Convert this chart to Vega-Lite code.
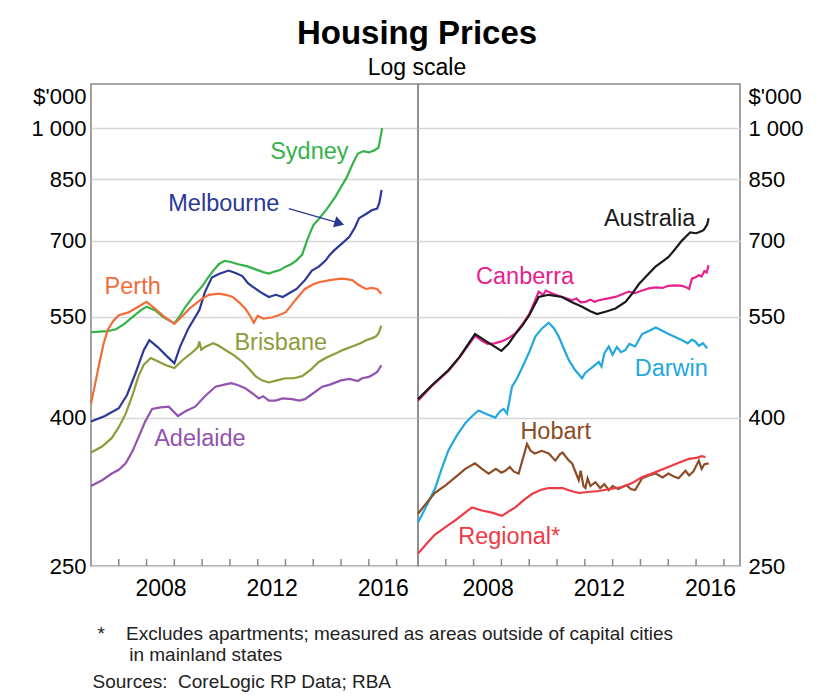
{
  "$schema": "https://vega.github.io/schema/vega-lite/v6.json",
  "background": "white",
  "padding": {"left": 30, "top": 18, "right": 5, "bottom": 5},
  "autosize": {"type": "pad"},
  "bounds": "flush",
  "spacing": 0,
  "title": {"text": "Housing Prices", "subtitle": "Log scale", "anchor": "middle", "font": "Liberation Sans", "subtitleFont": "Liberation Sans", "fontSize": 33, "fontWeight": "bold", "subtitleFontSize": 23, "color": "#000000", "subtitleColor": "#000000", "offset": 3, "subtitlePadding": 6},
  "config": {
    "font": "Liberation Sans",
    "view": {"stroke": "#8a8a8a", "strokeWidth": 1.6},
    "axis": {"labelFont": "Liberation Sans", "titleFont": "Liberation Sans", "labelColor": "#000000", "titleColor": "#000000", "labelFontSize": 22, "titleFontSize": 22, "titleFontWeight": "normal"}
  },
  "datasets": {
    "series": [
      {"panel":"L","city":"Sydney","year":2006.0,"price":524},{"panel":"L","city":"Sydney","year":2006.3,"price":525},{"panel":"L","city":"Sydney","year":2006.6,"price":526},{"panel":"L","city":"Sydney","year":2006.9,"price":529},{"panel":"L","city":"Sydney","year":2007.2,"price":538},{"panel":"L","city":"Sydney","year":2007.5,"price":550},{"panel":"L","city":"Sydney","year":2007.8,"price":562},{"panel":"L","city":"Sydney","year":2008.0,"price":568},{"panel":"L","city":"Sydney","year":2008.3,"price":562},{"panel":"L","city":"Sydney","year":2008.6,"price":550},{"panel":"L","city":"Sydney","year":2009.0,"price":539},{"panel":"L","city":"Sydney","year":2009.2,"price":552},{"panel":"L","city":"Sydney","year":2009.4,"price":568},{"panel":"L","city":"Sydney","year":2009.7,"price":588},{"panel":"L","city":"Sydney","year":2010.0,"price":606},{"panel":"L","city":"Sydney","year":2010.2,"price":622},{"panel":"L","city":"Sydney","year":2010.4,"price":637},{"panel":"L","city":"Sydney","year":2010.6,"price":650},{"panel":"L","city":"Sydney","year":2010.8,"price":657},{"panel":"L","city":"Sydney","year":2011.0,"price":655},{"panel":"L","city":"Sydney","year":2011.3,"price":650},{"panel":"L","city":"Sydney","year":2011.6,"price":646},{"panel":"L","city":"Sydney","year":2011.9,"price":640},{"panel":"L","city":"Sydney","year":2012.2,"price":634},{"panel":"L","city":"Sydney","year":2012.4,"price":631},{"panel":"L","city":"Sydney","year":2012.6,"price":635},{"panel":"L","city":"Sydney","year":2012.8,"price":638},{"panel":"L","city":"Sydney","year":2013.0,"price":645},{"panel":"L","city":"Sydney","year":2013.2,"price":650},{"panel":"L","city":"Sydney","year":2013.4,"price":658},{"panel":"L","city":"Sydney","year":2013.6,"price":670},{"panel":"L","city":"Sydney","year":2013.8,"price":705},{"panel":"L","city":"Sydney","year":2014.0,"price":735},{"panel":"L","city":"Sydney","year":2014.2,"price":750},{"panel":"L","city":"Sydney","year":2014.5,"price":775},{"panel":"L","city":"Sydney","year":2014.8,"price":805},{"panel":"L","city":"Sydney","year":2015.0,"price":830},{"panel":"L","city":"Sydney","year":2015.2,"price":855},{"panel":"L","city":"Sydney","year":2015.4,"price":890},{"panel":"L","city":"Sydney","year":2015.6,"price":922},{"panel":"L","city":"Sydney","year":2015.8,"price":930},{"panel":"L","city":"Sydney","year":2016.0,"price":926},{"panel":"L","city":"Sydney","year":2016.2,"price":932},{"panel":"L","city":"Sydney","year":2016.35,"price":940},{"panel":"L","city":"Sydney","year":2016.48,"price":1000},
      {"panel":"L","city":"Melbourne","year":2006.0,"price":395},{"panel":"L","city":"Melbourne","year":2006.5,"price":402},{"panel":"L","city":"Melbourne","year":2007.0,"price":412},{"panel":"L","city":"Melbourne","year":2007.3,"price":430},{"panel":"L","city":"Melbourne","year":2007.6,"price":460},{"panel":"L","city":"Melbourne","year":2007.9,"price":495},{"panel":"L","city":"Melbourne","year":2008.1,"price":511},{"panel":"L","city":"Melbourne","year":2008.4,"price":500},{"panel":"L","city":"Melbourne","year":2008.7,"price":487},{"panel":"L","city":"Melbourne","year":2009.0,"price":475},{"panel":"L","city":"Melbourne","year":2009.2,"price":500},{"panel":"L","city":"Melbourne","year":2009.5,"price":530},{"panel":"L","city":"Melbourne","year":2009.9,"price":562},{"panel":"L","city":"Melbourne","year":2010.1,"price":595},{"panel":"L","city":"Melbourne","year":2010.35,"price":623},{"panel":"L","city":"Melbourne","year":2010.6,"price":630},{"panel":"L","city":"Melbourne","year":2010.95,"price":637},{"panel":"L","city":"Melbourne","year":2011.2,"price":632},{"panel":"L","city":"Melbourne","year":2011.45,"price":626},{"panel":"L","city":"Melbourne","year":2011.65,"price":612},{"panel":"L","city":"Melbourne","year":2011.8,"price":606},{"panel":"L","city":"Melbourne","year":2012.1,"price":595},{"panel":"L","city":"Melbourne","year":2012.4,"price":586},{"panel":"L","city":"Melbourne","year":2012.65,"price":590},{"panel":"L","city":"Melbourne","year":2012.9,"price":586},{"panel":"L","city":"Melbourne","year":2013.1,"price":592},{"panel":"L","city":"Melbourne","year":2013.4,"price":601},{"panel":"L","city":"Melbourne","year":2013.7,"price":618},{"panel":"L","city":"Melbourne","year":2013.95,"price":637},{"panel":"L","city":"Melbourne","year":2014.2,"price":645},{"panel":"L","city":"Melbourne","year":2014.45,"price":658},{"panel":"L","city":"Melbourne","year":2014.6,"price":670},{"panel":"L","city":"Melbourne","year":2014.75,"price":679},{"panel":"L","city":"Melbourne","year":2015.0,"price":692},{"panel":"L","city":"Melbourne","year":2015.3,"price":709},{"panel":"L","city":"Melbourne","year":2015.5,"price":730},{"panel":"L","city":"Melbourne","year":2015.65,"price":752},{"panel":"L","city":"Melbourne","year":2015.9,"price":762},{"panel":"L","city":"Melbourne","year":2016.1,"price":771},{"panel":"L","city":"Melbourne","year":2016.3,"price":775},{"panel":"L","city":"Melbourne","year":2016.38,"price":790},{"panel":"L","city":"Melbourne","year":2016.46,"price":822},
      {"panel":"L","city":"Perth","year":2006.0,"price":418},{"panel":"L","city":"Perth","year":2006.15,"price":445},{"panel":"L","city":"Perth","year":2006.3,"price":475},{"panel":"L","city":"Perth","year":2006.45,"price":505},{"panel":"L","city":"Perth","year":2006.6,"price":528},{"panel":"L","city":"Perth","year":2006.8,"price":543},{"panel":"L","city":"Perth","year":2007.0,"price":553},{"panel":"L","city":"Perth","year":2007.35,"price":558},{"panel":"L","city":"Perth","year":2007.7,"price":568},{"panel":"L","city":"Perth","year":2008.0,"price":577},{"panel":"L","city":"Perth","year":2008.3,"price":565},{"panel":"L","city":"Perth","year":2008.6,"price":552},{"panel":"L","city":"Perth","year":2009.0,"price":538},{"panel":"L","city":"Perth","year":2009.3,"price":552},{"panel":"L","city":"Perth","year":2009.55,"price":565},{"panel":"L","city":"Perth","year":2009.75,"price":573},{"panel":"L","city":"Perth","year":2010.0,"price":583},{"panel":"L","city":"Perth","year":2010.25,"price":590},{"panel":"L","city":"Perth","year":2010.6,"price":592},{"panel":"L","city":"Perth","year":2010.85,"price":590},{"panel":"L","city":"Perth","year":2011.1,"price":586},{"panel":"L","city":"Perth","year":2011.35,"price":575},{"panel":"L","city":"Perth","year":2011.55,"price":565},{"panel":"L","city":"Perth","year":2011.75,"price":550},{"panel":"L","city":"Perth","year":2011.86,"price":540},{"panel":"L","city":"Perth","year":2012.0,"price":552},{"panel":"L","city":"Perth","year":2012.2,"price":547},{"panel":"L","city":"Perth","year":2012.5,"price":549},{"panel":"L","city":"Perth","year":2012.75,"price":553},{"panel":"L","city":"Perth","year":2013.0,"price":558},{"panel":"L","city":"Perth","year":2013.2,"price":570},{"panel":"L","city":"Perth","year":2013.35,"price":580},{"panel":"L","city":"Perth","year":2013.55,"price":592},{"panel":"L","city":"Perth","year":2013.7,"price":601},{"panel":"L","city":"Perth","year":2014.0,"price":610},{"panel":"L","city":"Perth","year":2014.2,"price":614},{"panel":"L","city":"Perth","year":2014.6,"price":618},{"panel":"L","city":"Perth","year":2015.0,"price":621},{"panel":"L","city":"Perth","year":2015.2,"price":620},{"panel":"L","city":"Perth","year":2015.4,"price":618},{"panel":"L","city":"Perth","year":2015.65,"price":608},{"panel":"L","city":"Perth","year":2015.9,"price":601},{"panel":"L","city":"Perth","year":2016.1,"price":603},{"panel":"L","city":"Perth","year":2016.3,"price":601},{"panel":"L","city":"Perth","year":2016.45,"price":592},
      {"panel":"L","city":"Brisbane","year":2006.0,"price":358},{"panel":"L","city":"Brisbane","year":2006.4,"price":365},{"panel":"L","city":"Brisbane","year":2006.75,"price":375},{"panel":"L","city":"Brisbane","year":2007.0,"price":388},{"panel":"L","city":"Brisbane","year":2007.25,"price":405},{"panel":"L","city":"Brisbane","year":2007.5,"price":430},{"panel":"L","city":"Brisbane","year":2007.7,"price":455},{"panel":"L","city":"Brisbane","year":2007.9,"price":473},{"panel":"L","city":"Brisbane","year":2008.15,"price":483},{"panel":"L","city":"Brisbane","year":2008.4,"price":478},{"panel":"L","city":"Brisbane","year":2008.7,"price":472},{"panel":"L","city":"Brisbane","year":2009.0,"price":468},{"panel":"L","city":"Brisbane","year":2009.3,"price":480},{"panel":"L","city":"Brisbane","year":2009.6,"price":490},{"panel":"L","city":"Brisbane","year":2009.85,"price":500},{"panel":"L","city":"Brisbane","year":2009.9,"price":509},{"panel":"L","city":"Brisbane","year":2009.97,"price":496},{"panel":"L","city":"Brisbane","year":2010.1,"price":500},{"panel":"L","city":"Brisbane","year":2010.4,"price":506},{"panel":"L","city":"Brisbane","year":2010.6,"price":502},{"panel":"L","city":"Brisbane","year":2010.85,"price":495},{"panel":"L","city":"Brisbane","year":2011.15,"price":487},{"panel":"L","city":"Brisbane","year":2011.45,"price":477},{"panel":"L","city":"Brisbane","year":2011.7,"price":466},{"panel":"L","city":"Brisbane","year":2011.92,"price":456},{"panel":"L","city":"Brisbane","year":2012.15,"price":450},{"panel":"L","city":"Brisbane","year":2012.4,"price":447},{"panel":"L","city":"Brisbane","year":2012.7,"price":450},{"panel":"L","city":"Brisbane","year":2013.0,"price":453},{"panel":"L","city":"Brisbane","year":2013.3,"price":453},{"panel":"L","city":"Brisbane","year":2013.6,"price":456},{"panel":"L","city":"Brisbane","year":2013.9,"price":465},{"panel":"L","city":"Brisbane","year":2014.2,"price":477},{"panel":"L","city":"Brisbane","year":2014.5,"price":484},{"panel":"L","city":"Brisbane","year":2014.8,"price":490},{"panel":"L","city":"Brisbane","year":2015.1,"price":496},{"panel":"L","city":"Brisbane","year":2015.4,"price":501},{"panel":"L","city":"Brisbane","year":2015.7,"price":506},{"panel":"L","city":"Brisbane","year":2015.9,"price":511},{"panel":"L","city":"Brisbane","year":2016.1,"price":514},{"panel":"L","city":"Brisbane","year":2016.25,"price":517},{"panel":"L","city":"Brisbane","year":2016.35,"price":522},{"panel":"L","city":"Brisbane","year":2016.45,"price":535},
      {"panel":"L","city":"Adelaide","year":2006.0,"price":322},{"panel":"L","city":"Adelaide","year":2006.4,"price":328},{"panel":"L","city":"Adelaide","year":2006.75,"price":335},{"panel":"L","city":"Adelaide","year":2007.0,"price":339},{"panel":"L","city":"Adelaide","year":2007.25,"price":346},{"panel":"L","city":"Adelaide","year":2007.5,"price":360},{"panel":"L","city":"Adelaide","year":2007.7,"price":375},{"panel":"L","city":"Adelaide","year":2007.95,"price":395},{"panel":"L","city":"Adelaide","year":2008.2,"price":411},{"panel":"L","city":"Adelaide","year":2008.5,"price":413},{"panel":"L","city":"Adelaide","year":2008.8,"price":414},{"panel":"L","city":"Adelaide","year":2009.13,"price":402},{"panel":"L","city":"Adelaide","year":2009.4,"price":408},{"panel":"L","city":"Adelaide","year":2009.75,"price":414},{"panel":"L","city":"Adelaide","year":2010.1,"price":428},{"panel":"L","city":"Adelaide","year":2010.48,"price":441},{"panel":"L","city":"Adelaide","year":2010.8,"price":444},{"panel":"L","city":"Adelaide","year":2011.05,"price":446},{"panel":"L","city":"Adelaide","year":2011.3,"price":443},{"panel":"L","city":"Adelaide","year":2011.55,"price":439},{"panel":"L","city":"Adelaide","year":2011.8,"price":432},{"panel":"L","city":"Adelaide","year":2012.04,"price":425},{"panel":"L","city":"Adelaide","year":2012.2,"price":428},{"panel":"L","city":"Adelaide","year":2012.4,"price":422},{"panel":"L","city":"Adelaide","year":2012.64,"price":422},{"panel":"L","city":"Adelaide","year":2012.9,"price":425},{"panel":"L","city":"Adelaide","year":2013.24,"price":424},{"panel":"L","city":"Adelaide","year":2013.5,"price":422},{"panel":"L","city":"Adelaide","year":2013.7,"price":424},{"panel":"L","city":"Adelaide","year":2014.0,"price":432},{"panel":"L","city":"Adelaide","year":2014.32,"price":441},{"panel":"L","city":"Adelaide","year":2014.6,"price":444},{"panel":"L","city":"Adelaide","year":2015.0,"price":450},{"panel":"L","city":"Adelaide","year":2015.3,"price":452},{"panel":"L","city":"Adelaide","year":2015.6,"price":449},{"panel":"L","city":"Adelaide","year":2015.76,"price":453},{"panel":"L","city":"Adelaide","year":2016.0,"price":455},{"panel":"L","city":"Adelaide","year":2016.1,"price":457},{"panel":"L","city":"Adelaide","year":2016.3,"price":462},{"panel":"L","city":"Adelaide","year":2016.45,"price":472},
      {"panel":"R","city":"Canberra","year":2006.0,"price":422},{"panel":"R","city":"Canberra","year":2006.5,"price":442},{"panel":"R","city":"Canberra","year":2007.1,"price":464},{"panel":"R","city":"Canberra","year":2007.5,"price":484},{"panel":"R","city":"Canberra","year":2008.05,"price":518},{"panel":"R","city":"Canberra","year":2008.3,"price":510},{"panel":"R","city":"Canberra","year":2008.5,"price":505},{"panel":"R","city":"Canberra","year":2008.75,"price":506},{"panel":"R","city":"Canberra","year":2009.0,"price":509},{"panel":"R","city":"Canberra","year":2009.25,"price":514},{"panel":"R","city":"Canberra","year":2009.5,"price":522},{"panel":"R","city":"Canberra","year":2009.75,"price":537},{"panel":"R","city":"Canberra","year":2010.0,"price":555},{"panel":"R","city":"Canberra","year":2010.2,"price":578},{"panel":"R","city":"Canberra","year":2010.34,"price":596},{"panel":"R","city":"Canberra","year":2010.5,"price":590},{"panel":"R","city":"Canberra","year":2010.6,"price":598},{"panel":"R","city":"Canberra","year":2010.85,"price":592},{"panel":"R","city":"Canberra","year":2011.06,"price":588},{"panel":"R","city":"Canberra","year":2011.3,"price":584},{"panel":"R","city":"Canberra","year":2011.54,"price":580},{"panel":"R","city":"Canberra","year":2011.7,"price":583},{"panel":"R","city":"Canberra","year":2011.85,"price":576},{"panel":"R","city":"Canberra","year":2012.02,"price":577},{"panel":"R","city":"Canberra","year":2012.2,"price":581},{"panel":"R","city":"Canberra","year":2012.35,"price":577},{"panel":"R","city":"Canberra","year":2012.5,"price":580},{"panel":"R","city":"Canberra","year":2012.8,"price":583},{"panel":"R","city":"Canberra","year":2013.1,"price":586},{"panel":"R","city":"Canberra","year":2013.3,"price":590},{"panel":"R","city":"Canberra","year":2013.58,"price":596},{"panel":"R","city":"Canberra","year":2013.8,"price":593},{"panel":"R","city":"Canberra","year":2014.06,"price":598},{"panel":"R","city":"Canberra","year":2014.3,"price":602},{"panel":"R","city":"Canberra","year":2014.55,"price":604},{"panel":"R","city":"Canberra","year":2014.8,"price":603},{"panel":"R","city":"Canberra","year":2015.0,"price":607},{"panel":"R","city":"Canberra","year":2015.25,"price":608},{"panel":"R","city":"Canberra","year":2015.5,"price":607},{"panel":"R","city":"Canberra","year":2015.65,"price":604},{"panel":"R","city":"Canberra","year":2015.75,"price":601},{"panel":"R","city":"Canberra","year":2015.85,"price":621},{"panel":"R","city":"Canberra","year":2016.0,"price":624},{"panel":"R","city":"Canberra","year":2016.1,"price":628},{"panel":"R","city":"Canberra","year":2016.2,"price":625},{"panel":"R","city":"Canberra","year":2016.3,"price":636},{"panel":"R","city":"Canberra","year":2016.38,"price":633},{"panel":"R","city":"Canberra","year":2016.45,"price":648},
      {"panel":"R","city":"Australia","year":2006.0,"price":424},{"panel":"R","city":"Australia","year":2006.5,"price":443},{"panel":"R","city":"Australia","year":2007.1,"price":465},{"panel":"R","city":"Australia","year":2007.5,"price":485},{"panel":"R","city":"Australia","year":2008.05,"price":521},{"panel":"R","city":"Australia","year":2008.5,"price":508},{"panel":"R","city":"Australia","year":2009.0,"price":494},{"panel":"R","city":"Australia","year":2009.25,"price":505},{"panel":"R","city":"Australia","year":2009.5,"price":521},{"panel":"R","city":"Australia","year":2009.75,"price":535},{"panel":"R","city":"Australia","year":2010.0,"price":553},{"panel":"R","city":"Australia","year":2010.34,"price":586},{"panel":"R","city":"Australia","year":2010.7,"price":590},{"panel":"R","city":"Australia","year":2011.18,"price":586},{"panel":"R","city":"Australia","year":2011.5,"price":577},{"panel":"R","city":"Australia","year":2011.9,"price":568},{"panel":"R","city":"Australia","year":2012.2,"price":560},{"panel":"R","city":"Australia","year":2012.44,"price":555},{"panel":"R","city":"Australia","year":2012.8,"price":560},{"panel":"R","city":"Australia","year":2013.1,"price":565},{"panel":"R","city":"Australia","year":2013.46,"price":577},{"panel":"R","city":"Australia","year":2013.7,"price":592},{"panel":"R","city":"Australia","year":2013.94,"price":610},{"panel":"R","city":"Australia","year":2014.2,"price":625},{"panel":"R","city":"Australia","year":2014.54,"price":645},{"panel":"R","city":"Australia","year":2014.8,"price":656},{"panel":"R","city":"Australia","year":2015.01,"price":665},{"panel":"R","city":"Australia","year":2015.25,"price":682},{"panel":"R","city":"Australia","year":2015.5,"price":701},{"panel":"R","city":"Australia","year":2015.79,"price":719},{"panel":"R","city":"Australia","year":2016.0,"price":717},{"panel":"R","city":"Australia","year":2016.1,"price":719},{"panel":"R","city":"Australia","year":2016.27,"price":724},{"panel":"R","city":"Australia","year":2016.4,"price":737},{"panel":"R","city":"Australia","year":2016.45,"price":752},
      {"panel":"R","city":"Darwin","year":2006.0,"price":287},{"panel":"R","city":"Darwin","year":2006.3,"price":302},{"panel":"R","city":"Darwin","year":2006.62,"price":320},{"panel":"R","city":"Darwin","year":2006.85,"price":340},{"panel":"R","city":"Darwin","year":2007.1,"price":361},{"panel":"R","city":"Darwin","year":2007.4,"price":378},{"panel":"R","city":"Darwin","year":2007.7,"price":393},{"panel":"R","city":"Darwin","year":2007.95,"price":402},{"panel":"R","city":"Darwin","year":2008.18,"price":409},{"panel":"R","city":"Darwin","year":2008.5,"price":404},{"panel":"R","city":"Darwin","year":2008.78,"price":400},{"panel":"R","city":"Darwin","year":2008.95,"price":408},{"panel":"R","city":"Darwin","year":2009.08,"price":411},{"panel":"R","city":"Darwin","year":2009.2,"price":405},{"panel":"R","city":"Darwin","year":2009.38,"price":441},{"panel":"R","city":"Darwin","year":2009.55,"price":452},{"panel":"R","city":"Darwin","year":2009.74,"price":468},{"panel":"R","city":"Darwin","year":2010.0,"price":492},{"panel":"R","city":"Darwin","year":2010.22,"price":517},{"panel":"R","city":"Darwin","year":2010.45,"price":530},{"panel":"R","city":"Darwin","year":2010.7,"price":540},{"panel":"R","city":"Darwin","year":2010.9,"price":530},{"panel":"R","city":"Darwin","year":2011.06,"price":517},{"panel":"R","city":"Darwin","year":2011.25,"price":497},{"panel":"R","city":"Darwin","year":2011.42,"price":480},{"panel":"R","city":"Darwin","year":2011.65,"price":465},{"panel":"R","city":"Darwin","year":2011.9,"price":453},{"panel":"R","city":"Darwin","year":2012.0,"price":460},{"panel":"R","city":"Darwin","year":2012.14,"price":465},{"panel":"R","city":"Darwin","year":2012.3,"price":470},{"panel":"R","city":"Darwin","year":2012.5,"price":477},{"panel":"R","city":"Darwin","year":2012.6,"price":470},{"panel":"R","city":"Darwin","year":2012.7,"price":490},{"panel":"R","city":"Darwin","year":2012.86,"price":501},{"panel":"R","city":"Darwin","year":2013.0,"price":488},{"panel":"R","city":"Darwin","year":2013.15,"price":500},{"panel":"R","city":"Darwin","year":2013.3,"price":492},{"panel":"R","city":"Darwin","year":2013.45,"price":495},{"panel":"R","city":"Darwin","year":2013.6,"price":505},{"panel":"R","city":"Darwin","year":2013.81,"price":501},{"panel":"R","city":"Darwin","year":2013.95,"price":512},{"panel":"R","city":"Darwin","year":2014.06,"price":521},{"panel":"R","city":"Darwin","year":2014.3,"price":526},{"panel":"R","city":"Darwin","year":2014.55,"price":532},{"panel":"R","city":"Darwin","year":2014.8,"price":526},{"panel":"R","city":"Darwin","year":2015.01,"price":521},{"panel":"R","city":"Darwin","year":2015.25,"price":516},{"panel":"R","city":"Darwin","year":2015.5,"price":511},{"panel":"R","city":"Darwin","year":2015.7,"price":506},{"panel":"R","city":"Darwin","year":2015.85,"price":512},{"panel":"R","city":"Darwin","year":2015.97,"price":509},{"panel":"R","city":"Darwin","year":2016.1,"price":502},{"panel":"R","city":"Darwin","year":2016.25,"price":506},{"panel":"R","city":"Darwin","year":2016.4,"price":498},
      {"panel":"R","city":"Hobart","year":2006.0,"price":295},{"panel":"R","city":"Hobart","year":2006.3,"price":305},{"panel":"R","city":"Hobart","year":2006.6,"price":315},{"panel":"R","city":"Hobart","year":2007.0,"price":323},{"panel":"R","city":"Hobart","year":2007.34,"price":331},{"panel":"R","city":"Hobart","year":2007.7,"price":340},{"panel":"R","city":"Hobart","year":2008.05,"price":346},{"panel":"R","city":"Hobart","year":2008.3,"price":340},{"panel":"R","city":"Hobart","year":2008.54,"price":335},{"panel":"R","city":"Hobart","year":2008.8,"price":340},{"panel":"R","city":"Hobart","year":2009.0,"price":336},{"panel":"R","city":"Hobart","year":2009.14,"price":338},{"panel":"R","city":"Hobart","year":2009.3,"price":342},{"panel":"R","city":"Hobart","year":2009.45,"price":337},{"panel":"R","city":"Hobart","year":2009.62,"price":335},{"panel":"R","city":"Hobart","year":2009.92,"price":368},{"panel":"R","city":"Hobart","year":2010.05,"price":360},{"panel":"R","city":"Hobart","year":2010.2,"price":357},{"panel":"R","city":"Hobart","year":2010.45,"price":360},{"panel":"R","city":"Hobart","year":2010.7,"price":357},{"panel":"R","city":"Hobart","year":2010.94,"price":349},{"panel":"R","city":"Hobart","year":2011.1,"price":356},{"panel":"R","city":"Hobart","year":2011.2,"price":358},{"panel":"R","city":"Hobart","year":2011.4,"price":350},{"panel":"R","city":"Hobart","year":2011.54,"price":346},{"panel":"R","city":"Hobart","year":2011.7,"price":334},{"panel":"R","city":"Hobart","year":2011.78,"price":328},{"panel":"R","city":"Hobart","year":2011.85,"price":338},{"panel":"R","city":"Hobart","year":2011.95,"price":322},{"panel":"R","city":"Hobart","year":2012.02,"price":320},{"panel":"R","city":"Hobart","year":2012.1,"price":330},{"panel":"R","city":"Hobart","year":2012.2,"price":322},{"panel":"R","city":"Hobart","year":2012.38,"price":326},{"panel":"R","city":"Hobart","year":2012.55,"price":320},{"panel":"R","city":"Hobart","year":2012.7,"price":324},{"panel":"R","city":"Hobart","year":2012.86,"price":318},{"panel":"R","city":"Hobart","year":2013.0,"price":322},{"panel":"R","city":"Hobart","year":2013.2,"price":319},{"panel":"R","city":"Hobart","year":2013.34,"price":321},{"panel":"R","city":"Hobart","year":2013.5,"price":323},{"panel":"R","city":"Hobart","year":2013.65,"price":319},{"panel":"R","city":"Hobart","year":2013.81,"price":318},{"panel":"R","city":"Hobart","year":2014.06,"price":330},{"panel":"R","city":"Hobart","year":2014.3,"price":333},{"panel":"R","city":"Hobart","year":2014.55,"price":335},{"panel":"R","city":"Hobart","year":2014.8,"price":331},{"panel":"R","city":"Hobart","year":2015.0,"price":335},{"panel":"R","city":"Hobart","year":2015.2,"price":332},{"panel":"R","city":"Hobart","year":2015.37,"price":330},{"panel":"R","city":"Hobart","year":2015.62,"price":338},{"panel":"R","city":"Hobart","year":2015.75,"price":333},{"panel":"R","city":"Hobart","year":2015.9,"price":337},{"panel":"R","city":"Hobart","year":2016.1,"price":349},{"panel":"R","city":"Hobart","year":2016.2,"price":340},{"panel":"R","city":"Hobart","year":2016.3,"price":345},{"panel":"R","city":"Hobart","year":2016.45,"price":346},
      {"panel":"R","city":"Regional","year":2006.0,"price":260},{"panel":"R","city":"Regional","year":2006.3,"price":268},{"panel":"R","city":"Regional","year":2006.6,"price":276},{"panel":"R","city":"Regional","year":2007.0,"price":283},{"panel":"R","city":"Regional","year":2007.35,"price":289},{"panel":"R","city":"Regional","year":2007.65,"price":295},{"panel":"R","city":"Regional","year":2007.94,"price":301},{"panel":"R","city":"Regional","year":2008.3,"price":298},{"panel":"R","city":"Regional","year":2008.66,"price":296},{"panel":"R","city":"Regional","year":2009.02,"price":293},{"panel":"R","city":"Regional","year":2009.25,"price":297},{"panel":"R","city":"Regional","year":2009.5,"price":301},{"panel":"R","city":"Regional","year":2009.8,"price":308},{"panel":"R","city":"Regional","year":2010.1,"price":314},{"panel":"R","city":"Regional","year":2010.4,"price":318},{"panel":"R","city":"Regional","year":2010.7,"price":320},{"panel":"R","city":"Regional","year":2011.0,"price":320},{"panel":"R","city":"Regional","year":2011.2,"price":320},{"panel":"R","city":"Regional","year":2011.5,"price":317},{"panel":"R","city":"Regional","year":2011.8,"price":315},{"panel":"R","city":"Regional","year":2012.1,"price":316},{"panel":"R","city":"Regional","year":2012.5,"price":317},{"panel":"R","city":"Regional","year":2012.9,"price":319},{"panel":"R","city":"Regional","year":2013.35,"price":321},{"panel":"R","city":"Regional","year":2013.7,"price":325},{"panel":"R","city":"Regional","year":2014.05,"price":331},{"panel":"R","city":"Regional","year":2014.5,"price":336},{"panel":"R","city":"Regional","year":2015.0,"price":342},{"panel":"R","city":"Regional","year":2015.4,"price":347},{"panel":"R","city":"Regional","year":2015.75,"price":351},{"panel":"R","city":"Regional","year":2016.0,"price":352},{"panel":"R","city":"Regional","year":2016.2,"price":354},{"panel":"R","city":"Regional","year":2016.34,"price":353}
    ],
    "labels": [
      {"panel":"L","city":"Sydney","label":"Sydney","year":2013.86,"price":926},
      {"panel":"L","city":"Melbourne","label":"Melbourne","year":2010.78,"price":786},
      {"panel":"L","city":"Perth","label":"Perth","year":2007.5,"price":604},
      {"panel":"L","city":"Brisbane","label":"Brisbane","year":2012.83,"price":507},
      {"panel":"L","city":"Adelaide","label":"Adelaide","year":2009.92,"price":374},
      {"panel":"R","city":"Australia","label":"Australia","year":2014.33,"price":751},
      {"panel":"R","city":"Canberra","label":"Canberra","year":2009.85,"price":624},
      {"panel":"R","city":"Darwin","label":"Darwin","year":2015.11,"price":467},
      {"panel":"R","city":"Hobart","label":"Hobart","year":2010.95,"price":382},
      {"panel":"R","city":"Regional","label":"Regional*","year":2009.28,"price":274}
    ],
    "arrow": [
      {"year":2013.12,"price":775,"year2":2014.94,"price2":740}
    ],
    "ticks": [
      {"year":2007},{"year":2008},{"year":2009},{"year":2010},{"year":2011},{"year":2012},{"year":2013},{"year":2014},{"year":2015},{"year":2016},{"year":2017}
    ]
  },
  "hconcat": [
    {
      "width": 327,
      "height": 482,
      "layer": [
        {
          "data": {"name": "series"},
          "transform": [{"filter": "datum.panel == 'L'"}],
          "mark": {"type": "line", "strokeWidth": 2.2},
          "encoding": {
            "x": {"field": "year", "type": "quantitative",
              "scale": {"domain": [2006, 2017.77], "nice": false, "zero": false},
              "axis": {"values": [2006,2007,2008,2009,2010,2011,2012,2013,2014,2015,2016,2017], "labelExpr": "datum.value % 4 == 0 ? format(datum.value, 'd') : ''", "labelOffset": 14, "labelFontSize": 23, "ticks": false, "labelPadding": 11, "domain": false, "grid": false, "labelFlush": false, "labelOverlap": false,
                "title": ["*\u00a0\u00a0\u00a0\u00a0Excludes apartments; measured as areas outside of capital cities", "\u200b\u00a0\u00a0\u00a0\u00a0\u00a0\u00a0in mainland states"],
                "titleFontSize": 19, "titleAlign": "left", "titleAnchor": "start", "titleBaseline": "alphabetic", "titleX": 6, "titleY": 73, "titleLineHeight": 21, "titleColor": "#222222"}},
            "y": {"field": "price", "type": "quantitative",
              "scale": {"type": "log", "domain": [250, 1150], "nice": false, "zero": false},
              "axis": {"values": [250,400,550,700,850,1000], "labelExpr": "datum.value == 1000 ? '1 000' : datum.label", "grid": true, "gridColor": "#d6d6d6", "gridWidth": 1.5, "ticks": false, "domain": false, "labelPadding": 5, "labelBaseline": "middle",
                "title": "$'000", "titleAngle": 0, "titleAlign": "right", "titleBaseline": "middle", "titleX": -5, "titleY": 12}},
            "color": {"field": "city", "type": "nominal", "legend": null,
              "scale": {"domain": ["Sydney","Melbourne","Perth","Brisbane","Adelaide","Australia","Canberra","Darwin","Hobart","Regional"], "range": ["#35b34a","#2c3896","#f26c3a","#8f9b3a","#9153ad","#1a1a1a","#e6218f","#22a7de","#8b4c26","#ee3a45"]}}
          }
        },
        {
          "data": {"name": "ticks"},
          "mark": {"type": "rule", "color": "#8a8a8a", "strokeWidth": 1.5},
          "encoding": {
            "x": {"field": "year", "type": "quantitative"},
            "y": {"datum": 250, "type": "quantitative"},
            "y2": {"datum": 255.6}
          }
        },
        {
          "data": {"name": "labels"},
          "transform": [{"filter": "datum.panel == 'L'"}],
          "mark": {"type": "text", "fontSize": 23.5, "align": "center", "baseline": "middle", "font": "Liberation Sans"},
          "encoding": {
            "x": {"field": "year", "type": "quantitative"},
            "y": {"field": "price", "type": "quantitative"},
            "text": {"field": "label"},
            "color": {"field": "city", "type": "nominal", "legend": null}
          }
        },
        {
          "data": {"name": "arrow"},
          "mark": {"type": "rule", "color": "#2c3896", "strokeWidth": 1.3},
          "encoding": {
            "x": {"field": "year", "type": "quantitative"},
            "y": {"field": "price", "type": "quantitative"},
            "x2": {"field": "year2"},
            "y2": {"field": "price2"}
          }
        },
        {
          "data": {"name": "arrow"},
          "mark": {"type": "point", "shape": "triangle-right", "filled": true, "size": 130, "angle": 17, "color": "#2c3896", "opacity": 1},
          "encoding": {
            "x": {"field": "year2", "type": "quantitative"},
            "y": {"field": "price2", "type": "quantitative"}
          }
        }
      ]
    },
    {
      "width": 322,
      "height": 482,
      "layer": [
        {
          "data": {"name": "series"},
          "transform": [{"filter": "datum.panel == 'R'"}],
          "mark": {"type": "line", "strokeWidth": 2.2},
          "encoding": {
            "x": {"field": "year", "type": "quantitative",
              "scale": {"domain": [2006, 2017.58], "nice": false, "zero": false},
              "axis": {"values": [2006,2007,2008,2009,2010,2011,2012,2013,2014,2015,2016,2017], "labelExpr": "datum.value % 4 == 0 ? format(datum.value, 'd') : ''", "labelOffset": 14, "labelFontSize": 23, "ticks": false, "labelPadding": 11, "domain": false, "grid": false, "labelFlush": false, "labelOverlap": false,
                "title": "Sources:\u00a0\u00a0CoreLogic RP Data; RBA",
                "titleFontSize": 19, "titleAlign": "left", "titleAnchor": "start", "titleBaseline": "alphabetic", "titleX": -326, "titleY": 121, "titleColor": "#222222"}},
            "y": {"field": "price", "type": "quantitative",
              "scale": {"type": "log", "domain": [250, 1150], "nice": false, "zero": false},
              "axis": {"orient": "right", "values": [250,400,550,700,850,1000], "labelExpr": "datum.value == 1000 ? '1 000' : datum.label", "grid": true, "gridColor": "#d6d6d6", "gridWidth": 1.5, "ticks": false, "domain": false, "labelPadding": 8, "labelBaseline": "middle",
                "title": "$'000", "titleAngle": 0, "titleAlign": "left", "titleBaseline": "middle", "titleX": 8, "titleY": 12}},
            "color": {"field": "city", "type": "nominal", "legend": null,
              "scale": {"domain": ["Sydney","Melbourne","Perth","Brisbane","Adelaide","Australia","Canberra","Darwin","Hobart","Regional"], "range": ["#35b34a","#2c3896","#f26c3a","#8f9b3a","#9153ad","#1a1a1a","#e6218f","#22a7de","#8b4c26","#ee3a45"]}}
          }
        },
        {
          "data": {"name": "ticks"},
          "mark": {"type": "rule", "color": "#8a8a8a", "strokeWidth": 1.5},
          "encoding": {
            "x": {"field": "year", "type": "quantitative"},
            "y": {"datum": 250, "type": "quantitative"},
            "y2": {"datum": 255.6}
          }
        },
        {
          "data": {"name": "labels"},
          "transform": [{"filter": "datum.panel == 'R'"}],
          "mark": {"type": "text", "fontSize": 23.5, "align": "center", "baseline": "middle", "font": "Liberation Sans"},
          "encoding": {
            "x": {"field": "year", "type": "quantitative"},
            "y": {"field": "price", "type": "quantitative"},
            "text": {"field": "label"},
            "color": {"field": "city", "type": "nominal", "legend": null}
          }
        }
      ]
    }
  ]
}
